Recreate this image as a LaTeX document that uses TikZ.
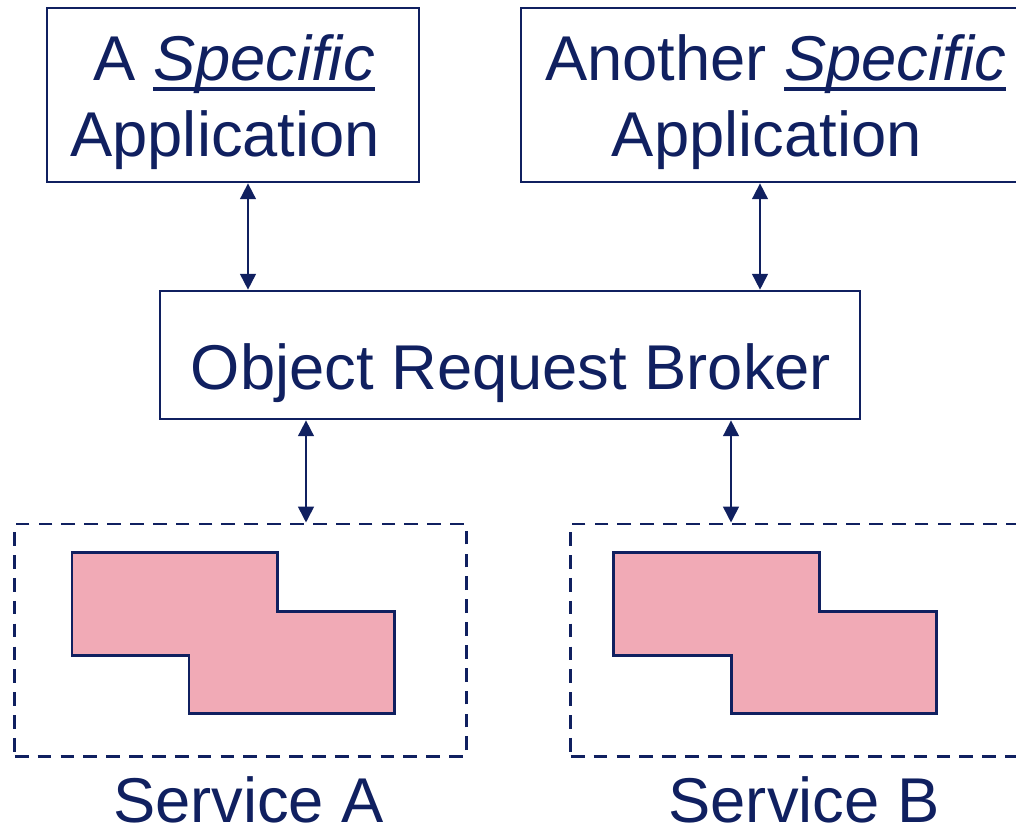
\documentclass[tikz,border=0pt]{standalone}
\usepackage{fontspec}
\setmainfont{Liberation Sans}
\usepackage{tikz}
\usetikzlibrary{arrows.meta,calc}
\definecolor{broker-blue}{RGB}{16,32,96}
\definecolor{service-pink}{RGB}{241,170,182}
\tikzstyle{solidbox}=[draw=broker-blue, line width=0.7pt, inner sep=0pt]
\tikzstyle{dashbox}=[draw=broker-blue, line width=0.8pt, dash pattern=on 3.9pt off 2.6pt, inner sep=0pt]
\tikzstyle{boxtext}=[text=broker-blue, font=\fontsize{18pt}{21.7pt}\selectfont, align=center, inner sep=0pt]
\tikzstyle{link}=[draw=broker-blue, line width=0.75pt, {Triangle[length=4.5pt,width=4.4pt]}-{Triangle[length=4.5pt,width=4.4pt]}]
\tikzstyle{component}=[draw=broker-blue, fill=service-pink, line width=0.85pt]
% italic word with a low underline
\newcommand{\emphline}[1]{\setbox0=\hbox{\itshape #1}\rlap{\rule[-3.1pt]{\wd0}{1.2pt}}\box0}

\begin{document}
\begin{tikzpicture}[x=0.01cm, y=-0.01cm]
	\useasboundingbox (0,0) rectangle (1016,829);
	\clip (0,0) rectangle (1016,829);
	% applications and broker
	\node[solidbox, minimum width=3.72cm, minimum height=1.74cm] (appA) at (233,95) {};
	\node[solidbox, minimum width=5.09cm, minimum height=1.74cm] (appB) at (775.5,95) {};
	\node[solidbox, minimum width=7cm, minimum height=1.28cm] (orb) at (510,355) {};
	\node[boxtext] (appAtext) at (234,102) {A \emphline{Specific}\\Application\hspace*{0.278em}};
	\node[boxtext] (appBtext) at (775.5,102) {Another \emphline{Specific}\\Application\hspace*{0.278em}};
	\node[boxtext, anchor=base] (orbtext) at (511,389) {Object Request Broker};
	% services
	\node[dashbox, minimum width=4.51cm, minimum height=2.32cm] (servA) at (240.5,640) {};
	\node[dashbox, minimum width=4.51cm, minimum height=2.32cm] (servB) at (796.5,640) {};
	\node[boxtext, anchor=base] (servAtext) at (248.5,822) {Service A};
	\node[boxtext, anchor=base] (servBtext) at (804,822) {Service B};
	\draw[component] (72,552) -- (277,552) -- (277,611) -- (394,611) -- (394,713) -- (189,713) -- (189,655) -- (72,655) -- cycle;
	\draw[component] (613,552) -- (819,552) -- (819,611) -- (936,611) -- (936,713) -- (731,713) -- (731,655) -- (613,655) -- cycle;
	% connectors
	\coordinate (colA) at (248,0);
	\coordinate (colB) at (760,0);
	\coordinate (colC) at (306,0);
	\coordinate (colD) at (731,0);
	\draw[link] (appA.south -| colA) -- (orb.north -| colA);
	\draw[link] (appB.south -| colB) -- (orb.north -| colB);
	\draw[link] (orb.south -| colC) -- (servA.north -| colC);
	\draw[link] (orb.south -| colD) -- (servB.north -| colD);
\end{tikzpicture}
\end{document}
